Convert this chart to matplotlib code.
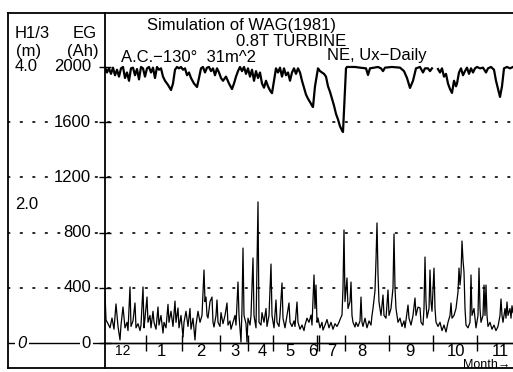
import numpy as np
import matplotlib.pyplot as plt

plt.rcParams['font.family'] = ['Liberation Sans', 'DejaVu Sans']

# time axis: t = days from start of record (Dec)
month_bounds = [41, 77, 115, 143, 168, 212, 214, 240, 284, 328, 372]
month_pos = [18, 56, 96, 130, 157, 185, 208, 227, 257, 305, 351, 395]
month_labels = ["12", "1", "2", "3", "4", "5", "6", "7", "8", "9", "10", "11"]

eg_ticks = [0, 400, 800, 1200, 1600, 2000]
eg_labels = ["0", "400", "800", "1200", "1600", "2000"]
h_ticks = [0, 1000, 2000]          # H1/3 scale drawn on the EG axis
h_labels = ["0", "2.0", "4.0"]

# EG (Ah), daily battery level
t_eg = [0, 2, 4, 6, 8, 10, 12, 14, 16, 18,
        20, 22, 24, 26, 28, 30, 32, 34, 36, 38,
        40, 42, 44, 46, 48, 50, 52, 54, 56, 58,
        60, 63, 66, 68, 70, 72, 74, 76, 78, 80,
        82, 84, 86, 89, 92, 94, 96, 98, 100, 102,
        104, 106, 108, 110, 112, 114, 116, 118, 121, 124,
        127, 129, 131, 133, 135, 137, 139, 141, 143, 145,
        147, 149, 151, 153, 155, 157, 159, 161, 163, 165,
        167, 169, 171, 173, 175, 177, 179, 181, 183, 185,
        187, 189, 191, 193, 195, 197, 199, 201, 203, 205,
        207, 208, 210, 213, 215, 217, 219, 221, 223, 225,
        227, 229, 231, 233, 235, 237, 238, 241, 242, 250,
        255, 261, 263, 265, 273, 276, 278, 280, 287, 295,
        299, 302, 305, 308, 311, 315, 318, 320, 323, 325,
        327, 330, 333, 335, 337, 339, 341, 343, 345, 347,
        349, 351, 352, 354, 356, 358, 360, 362, 364, 366,
        368, 370, 372, 375, 378, 381, 383, 386, 389, 391,
        393, 395, 397, 399, 402, 405, 408]
eg = [2000, 1960, 1990, 1950, 1995, 1940, 1980, 1930, 1990, 2000,
      1920, 1960, 1900, 1990, 1995, 1940, 1985, 1910, 2000, 1990,
      1930, 1990, 2000, 1960, 1995, 1920, 2000, 1980, 1990, 1930,
      1900, 1870, 1833, 1880, 1980, 2000, 1990, 2000, 1980, 1990,
      1940, 1960, 1920, 1880, 1855, 1920, 1990, 2000, 1960, 1995,
      2000, 1970, 1990, 1940, 1990, 1960, 1920, 1900, 1930, 1880,
      1840, 1880, 1930, 1970, 2000, 1970, 2000, 1950, 1990, 1930,
      1980, 1900, 1970, 1920, 1960, 1880, 1850, 1900, 1860, 1830,
      1810, 1900, 1990, 1960, 1995, 1930, 1990, 1940, 1960, 1900,
      1960, 1990, 1950, 1990, 1960, 1900, 1850, 1800, 1770, 1746,
      1720, 1710, 1860, 1990, 1970, 1960, 1950, 1930, 1860, 1820,
      1770, 1720, 1660, 1620, 1570, 1540, 1529, 1990, 2000, 2000,
      1995, 1990, 1942, 1990, 2000, 1990, 1970, 1995, 2000, 1995,
      1970, 1920, 1848, 1900, 1990, 2000, 1960, 1990, 1990, 1970,
      1990, np.nan, 1985, 1960, 1990, 1930, 1950, 1880, 1840, 1812,
      1900, 1860, 1880, 1960, 1990, 1940, 1970, 1995, 1950, 1990,
      1960, 1990, 2000, 1990, 1995, 1960, 1990, 2000, 1980, 1900,
      1840, 1783, 1860, 1990, 2000, 1990, 2000]

# H1/3 wave height, drawn on the EG scale (2.0 m = 1000)
t_h = [0, 1, 3, 5, 7, 9, 11, 13, 15, 16,
       18, 20, 22, 23, 25, 26, 28, 30, 31, 33,
       35, 36, 38, 39, 40, 42, 43, 45, 46, 48,
       49, 51, 53, 54, 56, 58, 59, 61, 63, 64,
       66, 68, 70, 71, 73, 74, 76, 78, 79, 81,
       83, 85, 86, 88, 90, 91, 93, 95, 97, 99,
       100, 101, 102, 103, 105, 107, 108, 109, 111, 112,
       113, 115, 116, 118, 120, 122, 123, 125, 126, 128,
       130, 131, 133, 134, 136, 137, 138, 139, 141, 142,
       143, 145, 146, 148, 149, 151, 153, 154, 156, 157,
       159, 161, 162, 164, 166, 167, 169, 171, 172, 174,
       175, 177, 178, 180, 182, 184, 185, 187, 189, 190,
       192, 193, 195, 197, 199, 200, 202, 204, 206, 207,
       209, 210, 211, 212, 213, 215, 217, 218, 220, 222,
       224, 226, 228, 230, 232, 234, 235, 237, 238, 239,
       240, 242, 243, 245, 246, 247, 248, 250, 251, 253,
       255, 256, 257, 258, 260, 262, 264, 266, 267, 268,
       270, 271, 272, 273, 274, 276, 278, 279, 281, 283,
       284, 286, 288, 289, 290, 291, 293, 295, 297, 299,
       300, 302, 303, 304, 306, 308, 310, 311, 313, 315,
       316, 318, 319, 320, 321, 322, 324, 325, 326, 327,
       329, 330, 331, 333, 335, 337, 339, 341, 343, 345,
       346, 347, 349, 351, 353, 354, 355, 356, 357, 358,
       359, 360, 361, 363, 365, 366, 367, 369, 371, 373,
       374, 375, 376, 378, 379, 380, 381, 382, 383, 385,
       387, 389, 391, 393, 395, 396, 397, 398, 400, 401,
       402, 403, 405, 406, 407, 408]
h = [362, 167, 140, 110, 181, 100, 283, 120, 22, 130,
     261, 110, 150, 90, 406, 120, 160, 290, 110, 140,
     90, 130, 406, 110, 180, 333, 150, 200, 110, 230,
     150, 100, 261, 130, 200, 72, 150, 110, 280, 150,
     230, 120, 304, 150, 254, 110, 200, 43, 150, 230,
     120, 250, 100, 180, 22, 130, 230, 150, 200, 529,
     300, 333, 200, 181, 300, 333, 150, 116, 200, 312,
     150, 120, 220, 140, 200, 290, 130, 160, 100, 150,
     200, 130, 442, 200, 7, 250, 688, 200, 140, 7,
     180, 130, 200, 616, 200, 110, 1022, 150, 130, 220,
     150, 250, 120, 200, 572, 200, 110, 312, 150, 120,
     200, 435, 180, 110, 200, 290, 150, 120, 160, 120,
     297, 150, 100, 130, 90, 130, 180, 150, 203, 130,
     493, 250, 420, 150, 181, 110, 150, 94, 130, 170,
     110, 150, 100, 140, 120, 150, 170, 203, 400, 819,
     300, 471, 250, 300, 442, 200, 150, 116, 150, 120,
     160, 333, 150, 120, 180, 110, 160, 130, 200, 250,
     380, 600, 870, 500, 297, 200, 348, 200, 180, 384,
     200, 250, 400, 790, 400, 250, 150, 180, 120, 160,
     110, 220, 275, 180, 130, 200, 326, 200, 260, 254,
     150, 130, 250, 623, 300, 181, 250, 529, 300, 230,
     543, 250, 152, 120, 150, 90, 130, 80, 150, 200,
     290, 180, 200, 250, 370, 543, 420, 500, 739, 600,
     514, 250, 130, 110, 150, 493, 200, 250, 110, 200,
     543, 250, 150, 200, 420, 200, 420, 200, 120, 150,
     100, 130, 90, 120, 200, 319, 200, 150, 250, 180,
     297, 200, 250, 180, 270, 220]

W, H = 513, 372


def fpos(x, y):
    return x / W, 1 - y / H


fig = plt.figure(figsize=(W / 100, H / 100), dpi=100)
ylo, yhi = -181, 2391

# outer frame + left label strip
frame = fig.add_axes([8 / W, 4 / H, 505 / W, 355 / H])
frame.set_xlim(0, 505)
frame.set_ylim(ylo, yhi)
frame.set_xticks([])
frame.set_yticks([])
for s in ['left', 'top', 'bottom']:
    frame.spines[s].set_linewidth(1.3)
frame.spines['right'].set_visible(False)
for v in eg_ticks[1:-1]:
    frame.axhline(v, color='black', lw=1.2, ls=(0, (1, 6.5)),
                  dash_capstyle='round')
frame.axhline(0, color='black', lw=1.0)

box = dict(facecolor='white', edgecolor='none', pad=1.5)
for v, lab in zip(eg_ticks, eg_labels):
    frame.text(83, v, lab, ha='right', va='center', fontsize=12, bbox=box)
for v, lab in zip(h_ticks, h_labels):
    if lab == "0":
        frame.text(14, v, lab, ha='center', va='center', fontsize=12,
                   style='italic', bbox=box)
    else:
        frame.text(7, v, lab, ha='left', va='center', fontsize=12, bbox=box)

fig.text(*fpos(15, 38), "H1/3", fontsize=12, va='baseline')
fig.text(*fpos(16, 56), "(m)", fontsize=12, va='baseline')
fig.text(*fpos(73, 38), "EG", fontsize=12, va='baseline')
fig.text(*fpos(67, 56), "(Ah)", fontsize=12, va='baseline')

# main plotting area
ax = fig.add_axes([105 / W, 4 / H, 408 / W, 355 / H])
ax.patch.set_alpha(0)
ax.set_xlim(0, 408)
ax.set_ylim(ylo, yhi)
ax.spines['top'].set_visible(False)
ax.spines['right'].set_visible(False)
ax.spines['left'].set_linewidth(1.3)
ax.spines['bottom'].set_position(('data', 0))
ax.spines['bottom'].set_linewidth(1.0)
ax.set_yticks(eg_ticks)
ax.set_yticklabels([])
ax.tick_params(axis='y', direction='inout', length=9, width=1.0)
ax.set_xticks(month_bounds)
ax.set_xticklabels([])
ax.tick_params(axis='x', which='major', direction='inout', length=11, width=1.0)
ax.set_xticks(month_pos, minor=True)
ax.set_xticklabels(month_labels, minor=True, fontsize=12)
ax.tick_params(axis='x', which='minor', length=0, pad=1)
ax.get_xticklabels(minor=True)[0].set_fontsize(10)

ax.plot(t_eg, eg, color='black', lw=1.6)
ax.plot(t_h, h, color='black', lw=0.9)

fig.text(*fpos(147, 30), "Simulation of WAG(1981)", fontsize=12, va='baseline')
fig.text(*fpos(236, 46), "0.8T TURBINE", fontsize=12, va='baseline')
fig.text(*fpos(121, 62), "A.C.\u2212130\u00b0  31m^2", fontsize=12, va='baseline')
fig.text(*fpos(327, 60), "NE, Ux\u2212Daily", fontsize=12, va='baseline')
fig.text(*fpos(510, 371), "Month\u2192", fontsize=9, ha='right', va='bottom')

fig.savefig("out.png", dpi=100, facecolor='white')
